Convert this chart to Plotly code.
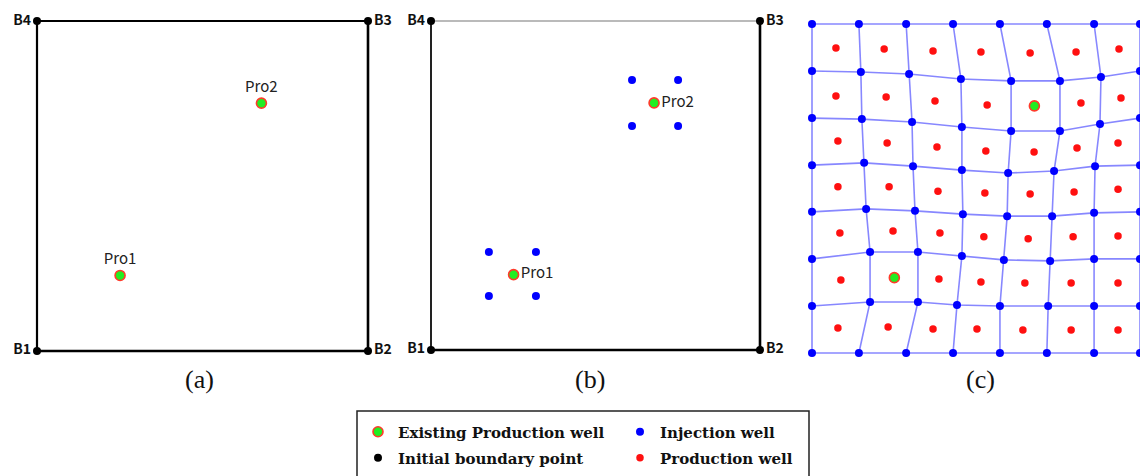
import plotly.graph_objects as go

# ---- field geometry (field units: 0-100 on both axes) ----
corner_names = ["B1", "B2", "B3", "B4"]
corner_x = [0, 100, 100, 0]
corner_y = [0, 0, 100, 100]

# existing production wells
well_names = ["Pro1", "Pro2"]
well_x = [25.1, 67.8]
well_y = [22.9, 75.1]

# injection wells placed around the existing producers, panel (b)
inj_x = [17.6, 31.9, 17.6, 31.9, 61.1, 75.1, 61.1, 75.1]
inj_y = [29.8, 29.8, 16.4, 16.4, 82.1, 82.1, 68.1, 68.1]

# optimised grid nodes (injection wells) for panel (c), rows from top to bottom
grid_x = [
    [0, 14.3, 28.7, 43.0, 57.3, 71.6, 86.0, 100],
    [0, 14.9, 29.6, 45.4, 60.7, 75.6, 88.1, 100],
    [0, 15.2, 30.5, 45.7, 60.7, 75.6, 87.8, 100],
    [0, 15.9, 30.8, 45.7, 59.8, 73.8, 86.3, 100],
    [0, 16.5, 31.4, 46.0, 59.5, 73.2, 86.0, 100],
    [0, 17.7, 32.3, 45.7, 58.5, 72.6, 86.0, 100],
    [0, 17.7, 32.3, 44.2, 57.3, 72.0, 86.0, 100],
    [0, 14.3, 28.7, 43.0, 57.3, 71.6, 86.0, 100],
]
grid_y = [
    [100, 100, 100, 100, 100, 100, 100, 100],
    [85.7, 85.4, 84.8, 83.3, 82.7, 82.7, 83.9, 85.7],
    [71.4, 71.1, 70.2, 68.7, 67.5, 67.5, 69.6, 71.4],
    [57.1, 57.8, 56.8, 55.6, 54.7, 55.3, 56.8, 57.1],
    [42.9, 43.8, 43.2, 42.2, 41.6, 41.6, 42.6, 42.9],
    [28.6, 30.7, 30.7, 29.5, 28.3, 28.0, 28.6, 28.6],
    [14.3, 15.5, 15.5, 14.6, 14.3, 14.3, 14.3, 14.3],
    [0, 0, 0, 0, 0, 0, 0, 0],
]

# new production wells in the grid cells, panel (c)
prod_x = [
    7.3, 22.0, 36.9, 51.5, 66.5, 80.5, 93.6,
    7.3, 22.6, 37.5, 53.4, 82.0, 94.2,
    7.9, 22.9, 38.1, 53.0, 67.7, 80.8, 93.3,
    7.9, 23.5, 38.4, 52.7, 66.5, 79.9, 93.3,
    8.5, 24.7, 39.0, 52.4, 65.9, 79.6, 93.3,
    8.8, 38.7, 51.5, 64.9, 79.0, 93.3,
    7.9, 23.2, 36.9, 50.3, 64.3, 79.0, 93.3,
]
prod_y = [
    92.7, 92.4, 91.8, 91.5, 91.2, 91.5, 92.4,
    78.1, 77.8, 76.6, 75.4, 76.0, 77.5,
    64.4, 63.8, 62.6, 61.4, 61.1, 62.3, 63.8,
    50.5, 50.5, 49.2, 48.6, 48.3, 48.9, 49.8,
    36.5, 37.1, 36.5, 35.3, 34.7, 35.3, 35.6,
    22.2, 22.5, 21.6, 21.3, 21.3, 21.3,
    7.6, 7.9, 7.3, 7.3, 7.0, 7.0, 7.0,
]

panel_labels = ["(a)", "(b)", "(c)"]
legend_labels = ["Existing Production well", "Initial boundary point",
                 "Injection well", "Production well"]

# ---- styles ----
W, H = 1140, 476
LBL_FONT = dict(family="Noto Sans CJK SC", size=14, color="#111111", weight="bold")
PRO_FONT = dict(family="Noto Sans CJK SC", size=15, color="#222222")
EXIST = dict(size=10, color="#22ee22", line=dict(color="#ff3a2a", width=1.6))
BOUND = dict(size=8, color="#000000")
INJ = dict(size=8, color="#0000ff")
PROD = dict(size=7.5, color="#ff1010")

# pixel boxes of each panel's square (left, right, top, bottom) and whether the
# right side may be padded (panel c runs to the page edge)
boxes = {"a": (37, 368, 21, 351, True), "b": (431, 760, 21, 350, True),
         "c": (812, 1140, 24, 353, False)}
PAD = 3  # field units of slack around the square so edge lines are not clipped

fig = go.Figure()


def axis_ids(i):
    return ("x" if i == 1 else f"x{i}", "y" if i == 1 else f"y{i}")


def boundary(i, widths, colors):
    xa, ya = axis_ids(i)
    # bottom, right, top, left edges
    for k, (p, q) in enumerate([(0, 1), (1, 2), (2, 3), (3, 0)]):
        fig.add_trace(go.Scatter(
            x=[corner_x[p], corner_x[q]], y=[corner_y[p], corner_y[q]],
            mode="lines", line=dict(color=colors[k], width=widths[k]),
            xaxis=xa, yaxis=ya, showlegend=False, hoverinfo="skip", cliponaxis=False))
    fig.add_trace(go.Scatter(
        x=corner_x, y=corner_y, mode="markers+text", text=corner_names,
        textposition=["middle left", "middle right", "middle right", "middle left"],
        textfont=LBL_FONT, marker=BOUND, xaxis=xa, yaxis=ya,
        name=legend_labels[1], legend="legend2", showlegend=(i == 1),
        cliponaxis=False, hoverinfo="skip"))


# panel (a): initial field
boundary(1, [2.6, 2.6, 2.0, 2.2], ["#000"] * 4)
fig.add_trace(go.Scatter(
    x=well_x, y=well_y, mode="markers+text", text=well_names,
    textposition="top center", textfont=PRO_FONT, marker=EXIST,
    xaxis="x", yaxis="y", name=legend_labels[0], legend="legend",
    cliponaxis=False, hoverinfo="skip"))

# panel (b): injection wells around existing producers
boundary(2, [2.6, 2.6, 1.2, 2.0], ["#000", "#000", "#777", "#222"])
fig.add_trace(go.Scatter(
    x=inj_x, y=inj_y, mode="markers", marker=INJ, xaxis="x2", yaxis="y2",
    name=legend_labels[2], legend="legend3", cliponaxis=False, hoverinfo="skip"))
fig.add_trace(go.Scatter(
    x=well_x, y=well_y, mode="markers+text", text=well_names,
    textposition="middle right", textfont=PRO_FONT, marker=EXIST,
    xaxis="x2", yaxis="y2", showlegend=False, cliponaxis=False, hoverinfo="skip"))

# panel (c): optimised well pattern
gx, gy = [], []
for r in range(len(grid_x)):
    gx += grid_x[r] + [None]
    gy += grid_y[r] + [None]
for c in range(len(grid_x[0])):
    gx += [grid_x[r][c] for r in range(len(grid_x))] + [None]
    gy += [grid_y[r][c] for r in range(len(grid_y))] + [None]
fig.add_trace(go.Scatter(
    x=gx, y=gy, mode="lines", line=dict(color="rgba(70,70,255,0.65)", width=1.6),
    xaxis="x3", yaxis="y3", showlegend=False, hoverinfo="skip", cliponaxis=False))
fig.add_trace(go.Scatter(
    x=[v for row in grid_x for v in row], y=[v for row in grid_y for v in row],
    mode="markers", marker=INJ, xaxis="x3", yaxis="y3", showlegend=False,
    cliponaxis=False, hoverinfo="skip"))
fig.add_trace(go.Scatter(
    x=prod_x, y=prod_y, mode="markers", marker=PROD, xaxis="x3", yaxis="y3",
    name=legend_labels[3], legend="legend4", cliponaxis=False, hoverinfo="skip"))
fig.add_trace(go.Scatter(
    x=well_x, y=well_y, mode="markers", marker=EXIST, xaxis="x3", yaxis="y3",
    showlegend=False, cliponaxis=False, hoverinfo="skip"))

# axes: the square 0-100 maps onto its pixel box, with a little slack around it
for i, key in enumerate(["a", "b", "c"], start=1):
    l, r, t, b, pad_right = boxes[key]
    sx, sy = (r - l) / 100, (b - t) / 100
    pr = PAD if pad_right else 0
    sfx = "" if i == 1 else str(i)
    fig.layout["xaxis" + sfx] = dict(
        domain=[(l - PAD * sx) / W, min(1.0, (r + pr * sx) / W)],
        range=[-PAD, 100 + pr], visible=False, fixedrange=True)
    fig.layout["yaxis" + sfx] = dict(
        domain=[(H - b - PAD * sy) / H, (H - t + PAD * sy) / H],
        range=[-PAD, 100 + PAD], visible=False, fixedrange=True)

# panel captions
for lab, cx in zip(panel_labels, [199, 590, 980]):
    fig.add_annotation(text=lab, x=cx / W, y=(H - 379) / H, xref="paper", yref="paper",
                       showarrow=False, xanchor="center", yanchor="middle",
                       font=dict(family="Liberation Serif", size=26, color="#111"))

# legend frame
fig.add_shape(type="rect", xref="paper", yref="paper", x0=357 / W, x1=809 / W,
              y0=-0.02, y1=(H - 411) / H, line=dict(color="#222", width=1.5))

LEG_FONT = dict(family="DejaVu Serif", size=15, color="#111", weight="bold")
leg_pos = {"legend": (378, 432), "legend2": (378, 458),
           "legend3": (640, 432), "legend4": (640, 458)}
for name, (px, py) in leg_pos.items():
    fig.layout[name] = dict(x=(px - 20) / W, y=(H - py) / H, xanchor="left",
                            yanchor="middle", bgcolor="rgba(0,0,0,0)", borderwidth=0,
                            font=LEG_FONT)

fig.update_layout(width=W, height=H, margin=dict(l=0, r=0, t=0, b=0),
                  paper_bgcolor="white", plot_bgcolor="white")

fig.write_html("out.html")
